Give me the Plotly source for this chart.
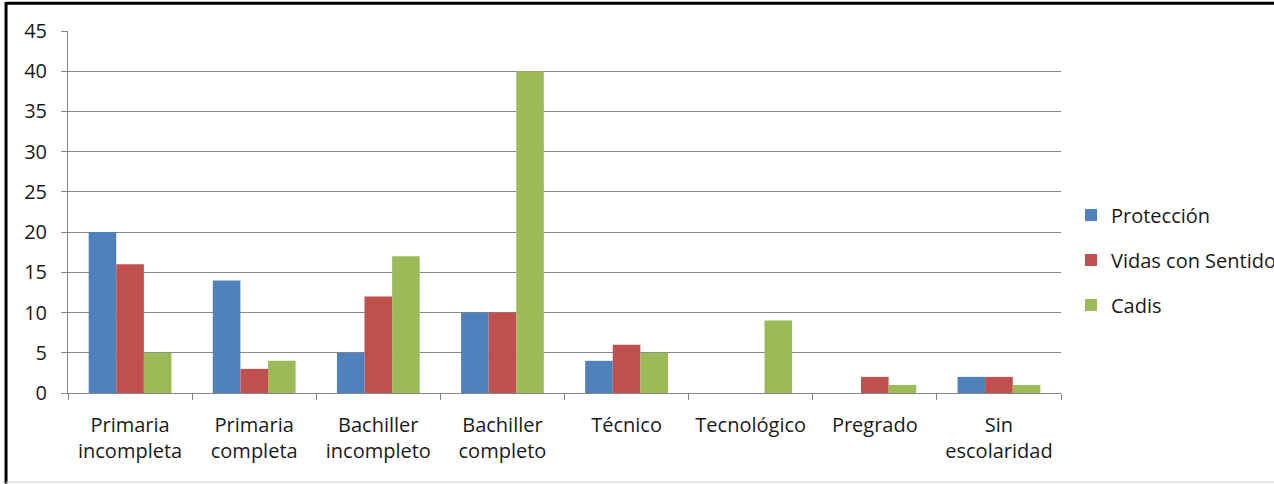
import plotly.graph_objects as go

categories = ["Primaria<br>incompleta", "Primaria<br>completa", "Bachiller<br>incompleto",
              "Bachiller<br>completo", "Técnico", "Tecnológico", "Pregrado", "Sin<br>escolaridad"]
proteccion = [20, 14, 5, 10, 4, 0, 0, 2]
vidas = [16, 3, 12, 10, 6, 0, 2, 2]
cadis = [5, 4, 17, 40, 5, 9, 1, 1]

series = [("Protección", proteccion, "#4F81BD"),
          ("Vidas con Sentido", vidas, "#C0504D"),
          ("Cadis", cadis, "#9BBB59")]

fig = go.Figure()
for i, (name, vals, color) in enumerate(series):
    fig.add_trace(go.Bar(x=categories, y=vals, name=name, marker_color=color,
                         marker_line_width=0, legendgroup=str(i)))

W = 1274
font = dict(family="Open Sans, Lato, sans-serif", size=20, color="#1a1a1a")
fig.update_layout(
    width=W, height=484,
    # legend is cut off at the right edge, like the original, so no auto margins
    margin=dict(l=68, r=W - 1061, t=31, b=91, autoexpand=False),
    paper_bgcolor="white", plot_bgcolor="white",
    font=font,
    barmode="group", bargap=0.333, bargroupgap=0,
    legend=dict(xref="container", yref="container", x=1071 / W, y=0.463,
                xanchor="left", yanchor="middle", tracegroupgap=16,
                font=font),
    xaxis=dict(showline=True, linecolor="#868686", linewidth=1,
               ticks="outside", tickson="boundaries", ticklen=6, tickcolor="#868686",
               showgrid=False, ticklabelstandoff=14),
    yaxis=dict(range=[0, 45], dtick=5, showline=True, linecolor="#868686", linewidth=1,
               ticks="outside", ticklen=6, tickcolor="#868686",
               showgrid=True, gridcolor="#868686", gridwidth=1, zeroline=False,
               ticklabelstandoff=10),
    shapes=[
        dict(type="line", xref="paper", yref="paper", x0=-0.0624, x1=-0.0624, y0=-0.25, y1=1.08,
             line=dict(color="black", width=3)),
        dict(type="line", xref="paper", yref="paper", x0=-0.0624, x1=1.3, y0=1.077, y1=1.077,
             line=dict(color="black", width=3)),
        dict(type="line", xref="paper", yref="paper", x0=-0.0624, x1=1.3, y0=-0.246, y1=-0.246,
             line=dict(color="#cccccc", width=1)),
    ],
)

fig.write_html("out.html", config={"displayModeBar": False},
               post_script="document.body.style.margin='0';document.body.style.overflow='hidden';")
